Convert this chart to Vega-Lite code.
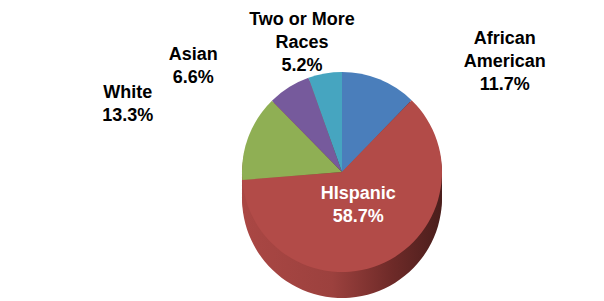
{
  "$schema": "https://vega.github.io/schema/vega-lite/v6.json",
  "width": 524,
  "height": 258,
  "autosize": "none",
  "padding": {"left": 80, "top": 43, "right": 0, "bottom": 0},
  "background": "white",
  "config": {"view": {"stroke": null}},
  "data": {
    "values": [
      {"race": "African American", "value": 11.7, "order": 1, "label": "African\nAmerican\n11.7%"},
      {"race": "Hispanic", "value": 58.7, "order": 2, "label": "HIspanic\n58.7%"},
      {"race": "White", "value": 13.3, "order": 3, "label": "White\n13.3%"},
      {"race": "Asian", "value": 6.6, "order": 4, "label": "Asian\n6.6%"},
      {"race": "Two or More Races", "value": 5.2, "order": 5, "label": "Two or More\nRaces\n5.2%"}
    ]
  },
  "encoding": {
    "theta": {"field": "value", "type": "quantitative", "stack": true},
    "order": {"field": "order", "type": "quantitative", "sort": "ascending"},
    "detail": {"field": "race", "type": "nominal"}
  },
  "layer": [
    {"mark": {"type": "arc", "radius": 100, "yOffset": 26, "stroke": null, "color": {"gradient": "linear", "x1": 0, "y1": 0, "x2": 1, "y2": 0, "stops": [{"offset": 0, "color": "#AA4744"}, {"offset": 0.45, "color": "#9C413E"}, {"offset": 0.75, "color": "#6E2A28"}, {"offset": 1, "color": "#4A1E1C"}]}}},
    {"mark": {"type": "arc", "radius": 100, "yOffset": 22, "stroke": null, "color": {"gradient": "linear", "x1": 0, "y1": 0, "x2": 1, "y2": 0, "stops": [{"offset": 0, "color": "#AA4744"}, {"offset": 0.45, "color": "#9C413E"}, {"offset": 0.75, "color": "#6E2A28"}, {"offset": 1, "color": "#4A1E1C"}]}}},
    {"mark": {"type": "arc", "radius": 100, "yOffset": 18, "stroke": null, "color": {"gradient": "linear", "x1": 0, "y1": 0, "x2": 1, "y2": 0, "stops": [{"offset": 0, "color": "#AA4744"}, {"offset": 0.45, "color": "#9C413E"}, {"offset": 0.75, "color": "#6E2A28"}, {"offset": 1, "color": "#4A1E1C"}]}}},
    {"mark": {"type": "arc", "radius": 100, "yOffset": 14, "stroke": null, "color": {"gradient": "linear", "x1": 0, "y1": 0, "x2": 1, "y2": 0, "stops": [{"offset": 0, "color": "#AA4744"}, {"offset": 0.45, "color": "#9C413E"}, {"offset": 0.75, "color": "#6E2A28"}, {"offset": 1, "color": "#4A1E1C"}]}}},
    {"mark": {"type": "arc", "radius": 100, "yOffset": 10, "stroke": null, "color": {"gradient": "linear", "x1": 0, "y1": 0, "x2": 1, "y2": 0, "stops": [{"offset": 0, "color": "#AA4744"}, {"offset": 0.45, "color": "#9C413E"}, {"offset": 0.75, "color": "#6E2A28"}, {"offset": 1, "color": "#4A1E1C"}]}}},
    {"mark": {"type": "arc", "radius": 100, "yOffset": 6, "stroke": null, "color": {"gradient": "linear", "x1": 0, "y1": 0, "x2": 1, "y2": 0, "stops": [{"offset": 0, "color": "#AA4744"}, {"offset": 0.45, "color": "#9C413E"}, {"offset": 0.75, "color": "#6E2A28"}, {"offset": 1, "color": "#4A1E1C"}]}}},
    {"mark": {"type": "arc", "radius": 100, "yOffset": 3, "stroke": null, "color": {"gradient": "linear", "x1": 0, "y1": 0, "x2": 1, "y2": 0, "stops": [{"offset": 0, "color": "#AA4744"}, {"offset": 0.45, "color": "#9C413E"}, {"offset": 0.75, "color": "#6E2A28"}, {"offset": 1, "color": "#4A1E1C"}]}}},
    {
      "mark": {"type": "arc", "radius": 100, "stroke": null},
      "encoding": {
        "color": {
          "field": "race",
          "type": "nominal",
          "scale": {
            "domain": ["African American", "Hispanic", "White", "Asian", "Two or More Races"],
            "range": ["#4A7EBB", "#B24B48", "#8FAF54", "#765A9C", "#46A5C0"]
          },
          "legend": null
        }
      }
    },
    {
      "mark": {"type": "text", "radius": 129, "dx": -18, "dy": -25, "font": "Liberation Sans", "fontWeight": "bold", "fontSize": 18, "lineHeight": 23, "lineBreak": "\n", "align": "center", "baseline": "middle", "color": "#000000"},
      "encoding": {"text": {"condition": {"test": "datum.race === 'Two or More Races'", "field": "label"}, "value": ""}}
    },
    {
      "mark": {"type": "text", "radius": 114, "dx": 120, "dy": -27, "font": "Liberation Sans", "fontWeight": "bold", "fontSize": 18, "lineHeight": 23, "lineBreak": "\n", "align": "center", "baseline": "middle", "color": "#000000"},
      "encoding": {"text": {"condition": {"test": "datum.race === 'African American'", "field": "label"}, "value": ""}}
    },
    {
      "mark": {"type": "text", "radius": 120, "dx": -85, "dy": -15, "font": "Liberation Sans", "fontWeight": "bold", "fontSize": 18, "lineHeight": 23, "lineBreak": "\n", "align": "center", "baseline": "middle", "color": "#000000"},
      "encoding": {"text": {"condition": {"test": "datum.race === 'Asian'", "field": "label"}, "value": ""}}
    },
    {
      "mark": {"type": "text", "radius": 154, "dx": -70, "dy": -25, "font": "Liberation Sans", "fontWeight": "bold", "fontSize": 18, "lineHeight": 23, "lineBreak": "\n", "align": "center", "baseline": "middle", "color": "#000000"},
      "encoding": {"text": {"condition": {"test": "datum.race === 'White'", "field": "label"}, "value": ""}}
    },
    {
      "mark": {"type": "text", "radius": 38, "dy": -12, "font": "Liberation Sans", "fontWeight": "bold", "fontSize": 18, "lineHeight": 23, "lineBreak": "\n", "align": "center", "baseline": "middle", "color": "#FFFFFF"},
      "encoding": {"text": {"condition": {"test": "datum.race === 'Hispanic'", "field": "label"}, "value": ""}}
    }
  ]
}
